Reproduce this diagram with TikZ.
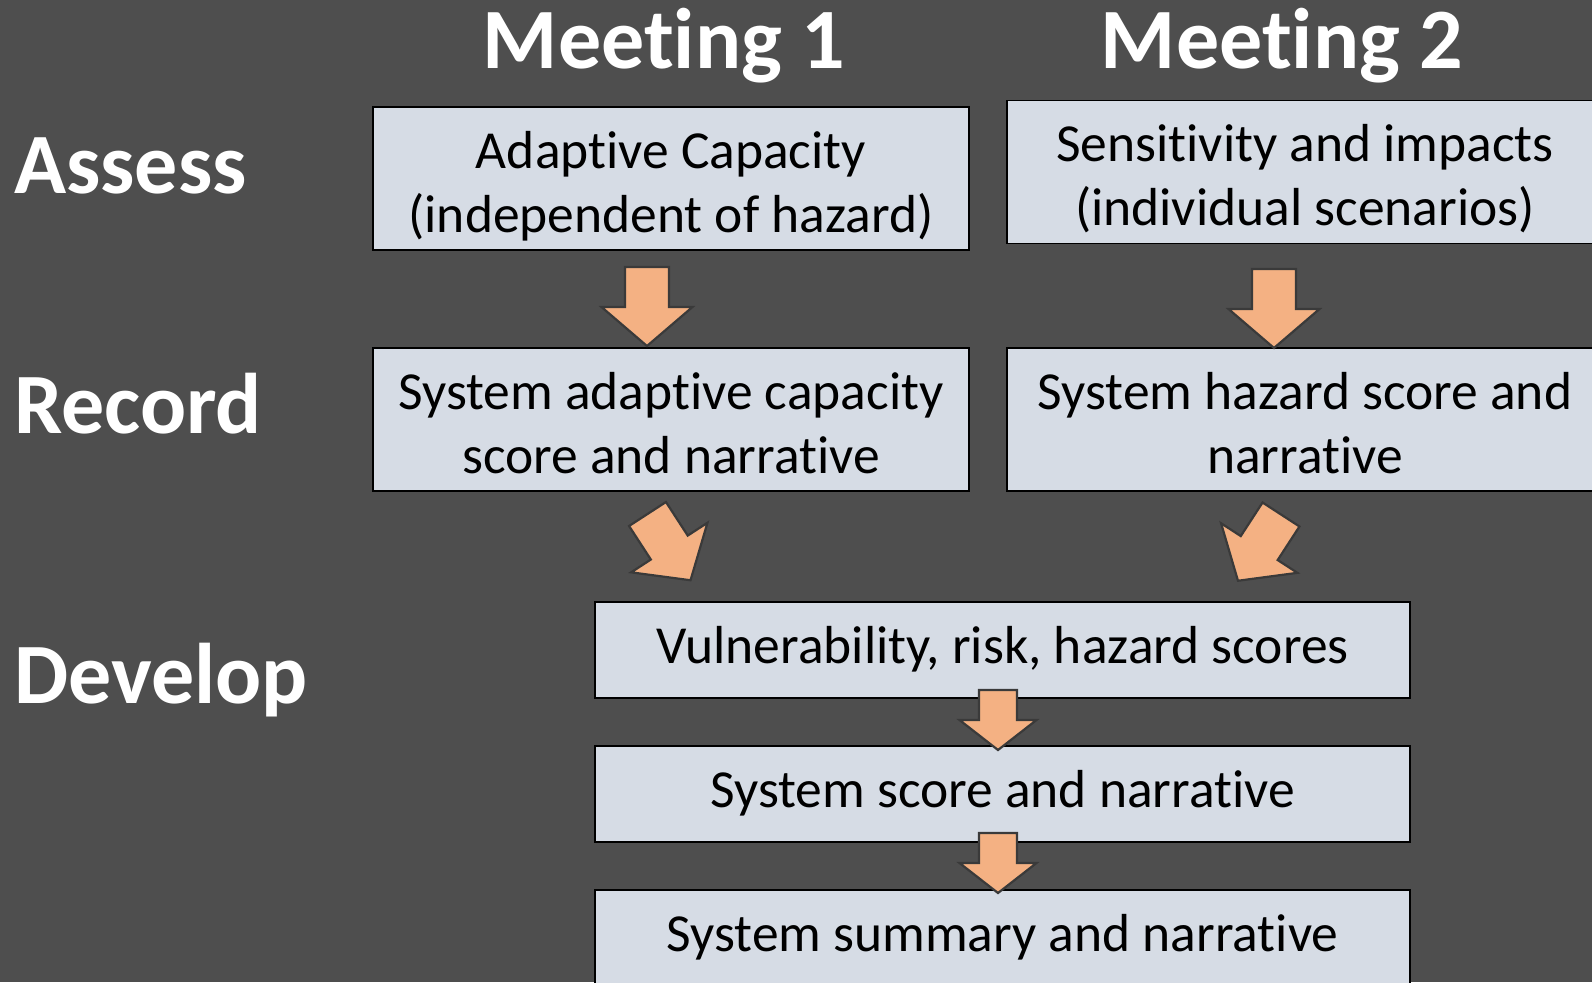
\documentclass[tikz,border=0pt]{standalone}
\usepackage{fontspec}
\setmainfont{Carlito}[Ligatures={NoCommon,NoContextual}]
\definecolor{bgray}{RGB}{78,78,78}
\definecolor{boxfill}{RGB}{214,220,229}
\definecolor{arrowfill}{RGB}{244,177,131}
\definecolor{arrowline}{RGB}{58,58,58}
\tikzset{
  stepbox/.style={draw=black, line width=1.5pt, fill=boxfill, inner sep=0pt,
    align=center, font=\fontsize{53.5}{64}\selectfont, text=black},
  widebox/.style={stepbox, minimum width=596pt, minimum height=143pt,
    text height=107pt, text depth=0pt},
  longbox/.style={stepbox, minimum width=815pt, minimum height=96pt,
    text height=26pt, text depth=0pt},
  rowlabel/.style={anchor=base west, text=white, inner sep=0pt,
    font=\bfseries\fontsize{86}{100}\selectfont},
  collabel/.style={anchor=base, text=white, inner sep=0pt,
    font=\bfseries\fontsize{86}{100}\selectfont},
  blockarrow/.style={fill=arrowfill, draw=arrowline, line width=2.2pt, line join=miter},
  bigarrow/.pic={\draw[blockarrow] (-22,0) -- (22,0) -- (22,40) -- (45.5,40) -- (0,79)
    -- (-45.5,40) -- (-22,40) -- cycle;},
  smallarrow/.pic={\draw[blockarrow] (-19,0) -- (19,0) -- (19,30) -- (38.5,30) -- (0,60)
    -- (-38.5,30) -- (-19,30) -- cycle;}
}
\begin{document}
\begin{tikzpicture}[x=1pt, y=-1pt]
  \useasboundingbox (0,0) rectangle (1592,982);
  \clip (0,0) rectangle (1592,982);
  \fill[bgray] (0,0) rectangle (1592,982);

  % Column and row headings
  \node[collabel] (meet1) at (664,68) {Meeting 1};
  \node[collabel] (meet2) at (1282,68) {Meeting 2};
  \node[rowlabel] (assess) at (14,193) {Assess};
  \node[rowlabel] (record) at (14,433) {Record};
  \node[rowlabel] (develop) at (14,703) {Develop};

  % Meeting boxes
  \node[widebox] (adapt) at (671,178.5) {Adaptive Capacity\\(independent of hazard)};
  \node[widebox] (sens) at (1305,172) {Sensitivity and impacts\\(individual scenarios)};
  \node[widebox] (sysadapt) at (671,419.5) {System adaptive capacity\\score and narrative};
  \node[widebox] (syshaz) at (1305,419.5) {System hazard score and\\narrative};

  % Develop boxes
  \node[longbox] (scores) at (1002.5,650) {Vulnerability, risk, hazard scores};
  \node[longbox] (sysscore) at (1002.5,794) {System score and narrative};
  \node[longbox] (summary) at (1002.5,938) {System summary and narrative};

  % Block arrows
  \pic at (647,267) {bigarrow};
  \pic at (1274,269) {bigarrow};
  \pic[rotate=33] at (647.5,514) {bigarrow};
  \pic[rotate=-33] at (1281,514.5) {bigarrow};
  \pic at (998,690) {smallarrow};
  \pic at (998,833) {smallarrow};
\end{tikzpicture}
\end{document}
